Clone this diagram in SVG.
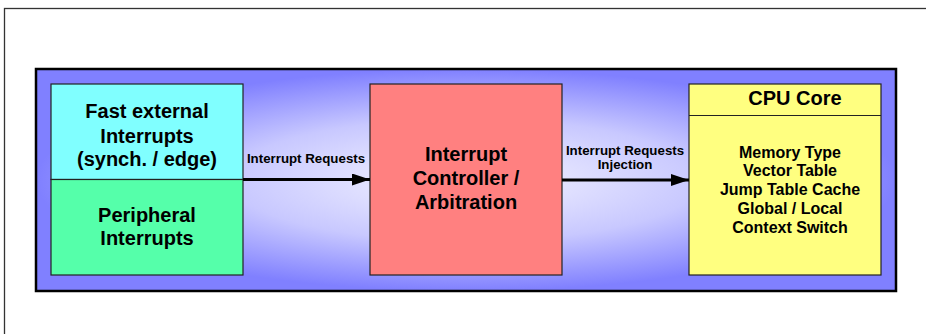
<svg xmlns="http://www.w3.org/2000/svg" width="926" height="334" viewBox="0 0 926 334">
<defs>
<radialGradient id="bg" cx="0.5" cy="0.5" r="0.5">
<stop offset="0" stop-color="#f4f4ff"/>
<stop offset="0.55" stop-color="#c8c8ff"/>
<stop offset="1" stop-color="#8080ff"/>
</radialGradient>
<marker id="ah" markerWidth="18" markerHeight="12" refX="18" refY="6" orient="auto" markerUnits="userSpaceOnUse">
<path d="M0,0 L18,6 L0,12 Z" fill="#000"/>
</marker>
<style>
.t{font-family:"Liberation Sans",Arial,sans-serif;font-weight:bold;fill:#000;text-anchor:middle}
.big{font-size:20px}
.mid{font-size:16px}
.sm{font-size:13.3px}
.box{stroke:#222;stroke-width:1.2}
.conn{stroke:#000;stroke-width:3;fill:none}
</style>
</defs>
<rect x="0" y="0" width="926" height="334" fill="#fff"/>
<rect x="4.5" y="8.5" width="940" height="340" fill="none" stroke="#333" stroke-width="1.3"/>
<g id="frame">
<rect x="36" y="69" width="860" height="222" fill="url(#bg)" stroke="#000" stroke-width="2.5"/>
</g>
<g id="fast">
<rect class="box" x="51" y="84" width="192" height="95.5" fill="#80ffff"/>
<text class="t big" x="147" y="118">Fast external</text>
<text class="t big" x="147" y="142.5">Interrupts</text>
<text class="t big" x="147" y="166">(synch. / edge)</text>
</g>
<g id="peripheral">
<rect class="box" x="51" y="179.5" width="192" height="95.5" fill="#55ffaa"/>
<text class="t big" x="147" y="221.5">Peripheral</text>
<text class="t big" x="147" y="245">Interrupts</text>
</g>
<g id="controller">
<rect class="box" x="370" y="84" width="192" height="191" fill="#ff8080"/>
<text class="t big" x="466" y="161">Interrupt</text>
<text class="t big" x="466" y="185">Controller /</text>
<text class="t big" x="466" y="209">Arbitration</text>
</g>
<g id="cpu">
<rect class="box" x="689" y="84" width="192" height="191" fill="#ffff80"/>
<line class="box" x1="689" y1="115.5" x2="881" y2="115.5"/>
<text class="t big" x="795" y="105">CPU Core</text>
<text class="t mid" x="790" y="157.5">Memory Type</text>
<text class="t mid" x="790" y="176.3">Vector Table</text>
<text class="t mid" x="790" y="195.1">Jump Table Cache</text>
<text class="t mid" x="790" y="213.9">Global / Local</text>
<text class="t mid" x="790" y="232.7">Context Switch</text>
</g>
<g id="connectors">
<line class="conn" x1="243" y1="179.5" x2="370" y2="179.5" marker-end="url(#ah)"/>
<text class="t sm" x="306" y="163.3">Interrupt Requests</text>
<line class="conn" x1="562" y1="180" x2="689" y2="180" marker-end="url(#ah)"/>
<text class="t sm" x="625" y="155">Interrupt Requests</text>
<text class="t sm" x="625" y="169">Injection</text>
</g>
</svg>
